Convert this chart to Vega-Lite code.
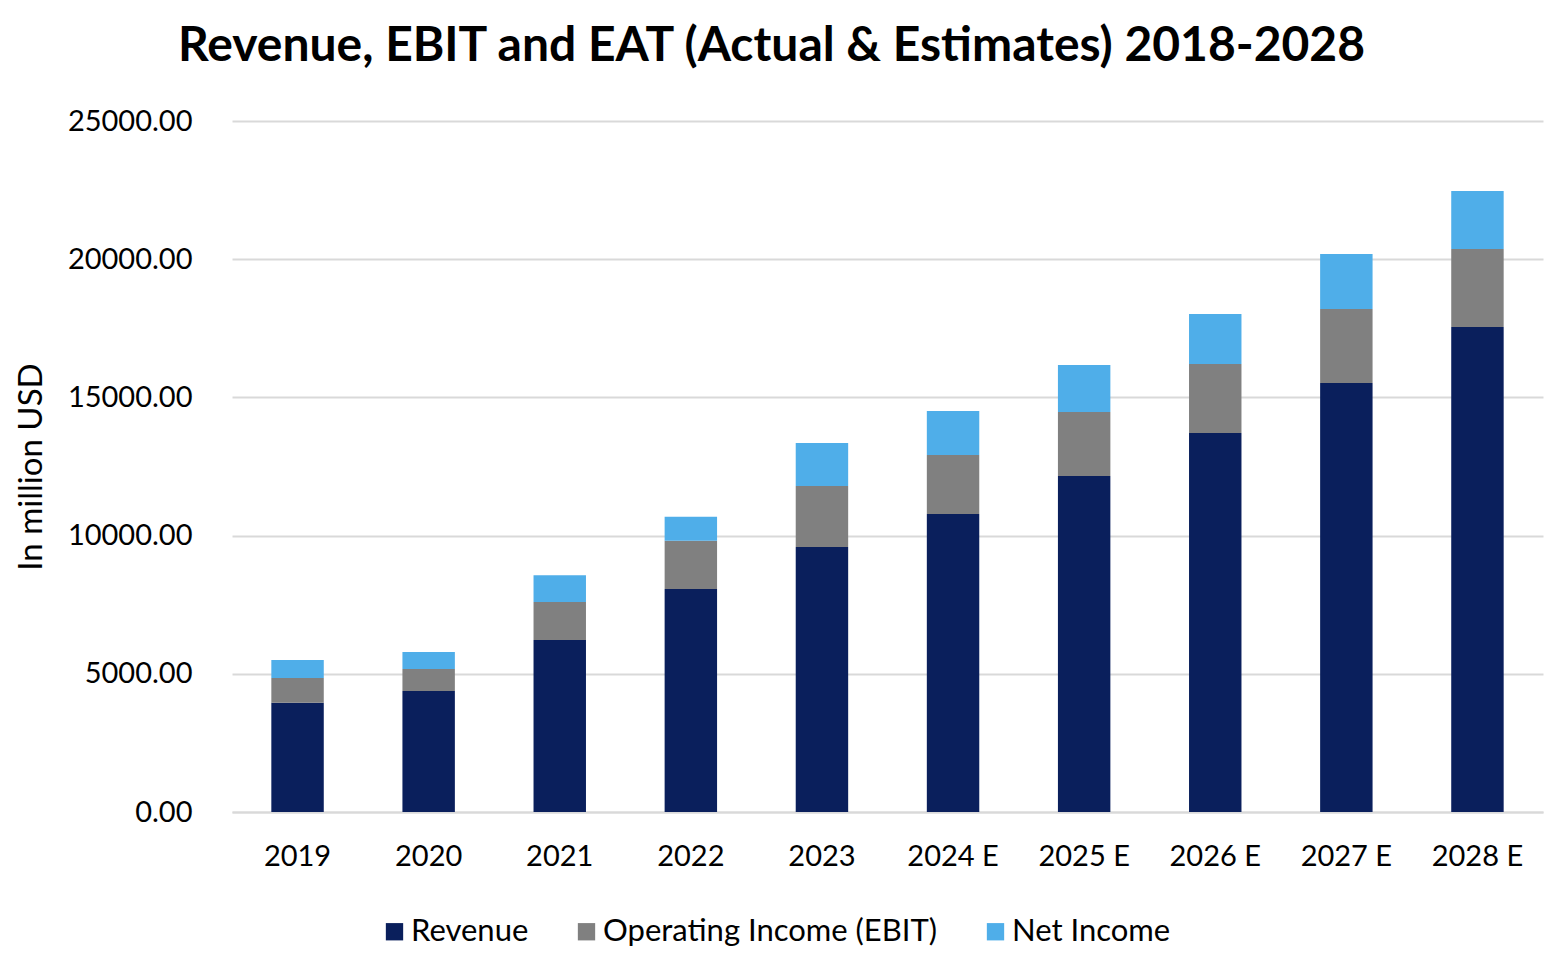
{
  "$schema": "https://vega.github.io/schema/vega-lite/v6.json",
  "autosize": {"type": "none"},
  "padding": {"left": 232, "top": 121, "right": 15, "bottom": 152},
  "width": 1311,
  "height": 691,
  "background": "white",
  "config": {"view": {"stroke": null}},
  "title": {
    "text": "Revenue, EBIT and EAT (Actual & Estimates) 2018-2028",
    "font": "Lato",
    "fontSize": 48,
    "fontWeight": "bold",
    "color": "#000000",
    "anchor": "middle",
    "dx": -116,
    "offset": 36
  },
  "data": {
    "values": [
      {"year": "2019", "series": "Revenue", "value": 3950},
      {"year": "2019", "series": "Operating Income (EBIT)", "value": 900},
      {"year": "2019", "series": "Net Income", "value": 650},
      {"year": "2020", "series": "Revenue", "value": 4380},
      {"year": "2020", "series": "Operating Income (EBIT)", "value": 790},
      {"year": "2020", "series": "Net Income", "value": 620},
      {"year": "2021", "series": "Revenue", "value": 6220},
      {"year": "2021", "series": "Operating Income (EBIT)", "value": 1380},
      {"year": "2021", "series": "Net Income", "value": 970},
      {"year": "2022", "series": "Revenue", "value": 8070},
      {"year": "2022", "series": "Operating Income (EBIT)", "value": 1740},
      {"year": "2022", "series": "Net Income", "value": 870},
      {"year": "2023", "series": "Revenue", "value": 9590},
      {"year": "2023", "series": "Operating Income (EBIT)", "value": 2200},
      {"year": "2023", "series": "Net Income", "value": 1560},
      {"year": "2024 E", "series": "Revenue", "value": 10780},
      {"year": "2024 E", "series": "Operating Income (EBIT)", "value": 2140},
      {"year": "2024 E", "series": "Net Income", "value": 1590},
      {"year": "2025 E", "series": "Revenue", "value": 12160},
      {"year": "2025 E", "series": "Operating Income (EBIT)", "value": 2310},
      {"year": "2025 E", "series": "Net Income", "value": 1700},
      {"year": "2026 E", "series": "Revenue", "value": 13710},
      {"year": "2026 E", "series": "Operating Income (EBIT)", "value": 2500},
      {"year": "2026 E", "series": "Net Income", "value": 1810},
      {"year": "2027 E", "series": "Revenue", "value": 15520},
      {"year": "2027 E", "series": "Operating Income (EBIT)", "value": 2680},
      {"year": "2027 E", "series": "Net Income", "value": 1990},
      {"year": "2028 E", "series": "Revenue", "value": 17550},
      {"year": "2028 E", "series": "Operating Income (EBIT)", "value": 2820},
      {"year": "2028 E", "series": "Net Income", "value": 2100}
    ]
  },
  "mark": {"type": "bar"},
  "encoding": {
    "x": {
      "field": "year",
      "type": "nominal",
      "sort": null,
      "scale": {"paddingInner": 0.6, "paddingOuter": 0.3},
      "axis": {
        "title": null,
        "labelAngle": 0,
        "labelFont": "Lato",
        "labelFontSize": 29,
        "labelColor": "#000000",
        "labelPadding": 30,
        "ticks": false,
        "domainColor": "#D9D9D9",
        "domainWidth": 2,
        "grid": false
      }
    },
    "y": {
      "field": "value",
      "type": "quantitative",
      "aggregate": "sum",
      "stack": "zero",
      "scale": {"domain": [0, 25000], "nice": false},
      "axis": {
        "title": "In million USD",
        "titleFont": "Lato",
        "titleFontSize": 33,
        "titleFontWeight": "normal",
        "titleColor": "#000000",
        "titlePadding": 19,
        "values": [0, 5000, 10000, 15000, 20000, 25000],
        "format": ".2f",
        "labelFont": "Lato",
        "labelFontSize": 29,
        "labelColor": "#000000",
        "labelPadding": 40,
        "ticks": false,
        "domain": false,
        "grid": true,
        "gridColor": "#D9D9D9",
        "gridWidth": 2
      }
    },
    "color": {
      "field": "series",
      "type": "nominal",
      "sort": ["Revenue", "Operating Income (EBIT)", "Net Income"],
      "scale": {
        "domain": ["Revenue", "Operating Income (EBIT)", "Net Income"],
        "range": ["#0A1F5C", "#808080", "#4FAEE9"]
      },
      "legend": {
        "title": null,
        "orient": "none",
        "direction": "horizontal",
        "legendX": 147,
        "legendY": 795,
        "symbolType": "square",
        "symbolSize": 300,
        "symbolStrokeWidth": 0,
        "labelFont": "Lato",
        "labelFontSize": 31,
        "labelLimit": 0,
        "labelColor": "#000000",
        "labelOffset": 1,
        "columnPadding": 42
      }
    }
  }
}
